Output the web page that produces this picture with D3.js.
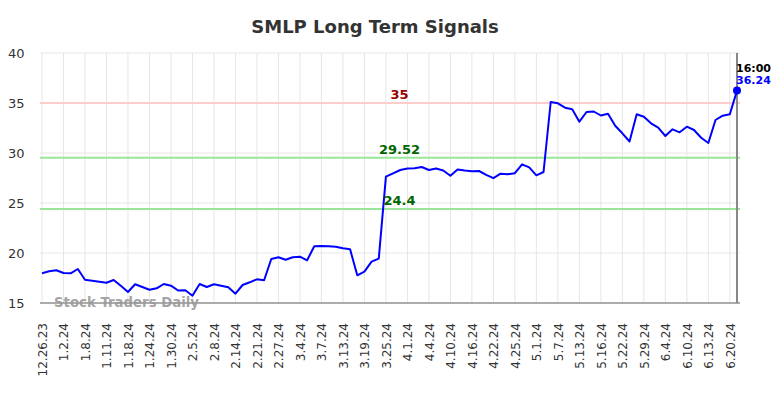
<!DOCTYPE html>
<html>
<head>
<meta charset="utf-8">
<script src="https://cdn.jsdelivr.net/npm/d3@7"></script>
<style>
  html, body { margin: 0; padding: 0; background: #fff; }
  svg { display: block; font-family: "DejaVu Sans", sans-serif; }
</style>
</head>
<body>
<svg id="chart" width="784" height="398"></svg>
<script>
const title = "SMLP Long Term Signals";
const tickLabels = ["12.26.23","1.2.24","1.8.24","1.11.24","1.18.24","1.24.24","1.30.24","2.5.24","2.8.24","2.14.24","2.21.24","2.27.24","3.4.24","3.7.24","3.13.24","3.19.24","3.25.24","4.1.24","4.4.24","4.10.24","4.16.24","4.22.24","4.25.24","5.1.24","5.7.24","5.13.24","5.16.24","5.22.24","5.29.24","6.4.24","6.10.24","6.13.24","6.20.24"];
const values = [17.97,18.17,18.27,18.0,17.97,18.4,17.33,17.23,17.13,17.03,
  17.3,16.73,16.1,16.87,16.6,16.33,16.47,16.9,16.73,16.25,
  16.27,15.73,16.9,16.6,16.87,16.73,16.57,15.93,16.8,17.07,
  17.37,17.27,19.4,19.57,19.33,19.57,19.63,19.27,20.67,20.7,
  20.67,20.63,20.47,20.37,17.77,18.13,19.13,19.43,27.63,27.97,
  28.3,28.45,28.47,28.6,28.3,28.45,28.25,27.72,28.35,28.25,
  28.17,28.2,27.82,27.48,27.93,27.88,27.98,28.87,28.57,27.77,
  28.1,35.1,34.97,34.53,34.37,33.13,34.1,34.15,33.75,33.93,
  32.72,31.97,31.15,33.87,33.63,32.97,32.53,31.7,32.37,32.07,
  32.63,32.3,31.53,31.0,33.3,33.73,33.88,36.24];
const tickEvery = 3;
const yTicks = [15, 20, 25, 30, 35, 40];
const signalLevels = [35, 29.52, 24.4];
const signalLabels = ["35", "29.52", "24.4"];
const lastTime = "16:00";
const lastValueLabel = "36.24";
const watermark = "Stock Traders Daily";

const svg = d3.select("#chart");
const pLeft = 42, pRight = 737, pTop = 53, pBottom = 303;

const x = d3.scaleLinear().domain([0, values.length - 1]).range([pLeft, pRight]);
const y = d3.scaleLinear().domain([15, 40]).range([pBottom, pTop]);

// title
svg.append("text").attr("x", 375).attr("y", 32.5).attr("text-anchor", "middle")
  .attr("font-size", 18).attr("font-weight", "bold").attr("fill", "#333").text(title);

// horizontal grid
svg.append("g").selectAll("line").data(yTicks).join("line")
  .attr("x1", pLeft - 2).attr("x2", pRight + 3)
  .attr("y1", d => y(d)).attr("y2", d => y(d))
  .attr("stroke", "#e6e6e6").attr("stroke-width", 1);

// vertical grid
const tickIdx = tickLabels.map((_, i) => i * tickEvery);
svg.append("g").selectAll("line").data(tickIdx).join("line")
  .attr("x1", d => x(d)).attr("x2", d => x(d))
  .attr("y1", pTop).attr("y2", pBottom)
  .attr("stroke", "#e6e6e6").attr("stroke-width", 1);

// y axis labels
const yAxis = d3.axisLeft(y).tickValues(yTicks).tickSize(0).tickPadding(0);
const gy = svg.append("g").attr("transform", "translate(24.5,0)").call(yAxis);
gy.select(".domain").remove();
gy.selectAll("text").attr("font-size", 13).attr("fill", "#333").attr("font-family", "DejaVu Sans, sans-serif");

// x axis labels
const xAxis = d3.axisBottom(x).tickValues(tickIdx).tickFormat((d, i) => tickLabels[i]).tickSize(0);
const gx = svg.append("g").attr("transform", `translate(0,${pBottom})`).call(xAxis);
gx.select(".domain").remove();
gx.selectAll("text")
  .attr("font-size", 12).attr("fill", "#333").attr("font-family", "DejaVu Sans, sans-serif")
  .attr("text-anchor", "end")
  .attr("transform", "rotate(-90)")
  .attr("x", -20).attr("y", 0).attr("dy", "0.35em");

// signal lines
const sigColors = ["#ffcccc", "#99e699", "#99e699"];
const sigText = ["#990000", "#006600", "#006600"];
signalLevels.forEach((v, i) => {
  svg.append("line").attr("x1", pLeft - 2).attr("x2", pRight + 3)
    .attr("y1", y(v)).attr("y2", y(v))
    .attr("stroke", sigColors[i]).attr("stroke-width", 2);
});

// bottom axis line
svg.append("line").attr("x1", pLeft - 2).attr("x2", pRight + 3)
  .attr("y1", pBottom).attr("y2", pBottom).attr("stroke", "#666").attr("stroke-width", 1.2);

// right vertical marker
svg.append("line").attr("x1", pRight).attr("x2", pRight)
  .attr("y1", pTop).attr("y2", pBottom).attr("stroke", "#888").attr("stroke-width", 2);

// series line
const line = d3.line().x((d, i) => x(i)).y(d => y(d));
svg.append("path").datum(values).attr("d", line)
  .attr("fill", "none").attr("stroke", "#0000ff").attr("stroke-width", 2)
  .attr("stroke-linejoin", "round");

// signal labels
signalLevels.forEach((v, i) => {
  svg.append("text").attr("x", 399.5).attr("y", y(v) - 4).attr("text-anchor", "middle")
    .attr("font-size", 13).attr("font-weight", "bold").attr("fill", sigText[i]).text(signalLabels[i]);
});

// last point
const li = values.length - 1;
svg.append("circle").attr("cx", x(li)).attr("cy", y(values[li])).attr("r", 4).attr("fill", "#0000ff");
svg.append("text").attr("x", x(li) - 1).attr("y", 72).attr("font-size", 11).attr("font-weight", "bold")
  .attr("fill", "#000").text(lastTime);
svg.append("text").attr("x", x(li) - 1).attr("y", 84).attr("font-size", 11).attr("font-weight", "bold")
  .attr("fill", "#0000ff").text(lastValueLabel);

// watermark
svg.append("text").attr("x", 54).attr("y", 306.5).attr("font-size", 13.3).attr("font-weight", "bold")
  .attr("fill", "#999").attr("fill-opacity", 0.9).text(watermark);
</script>
</body>
</html>
